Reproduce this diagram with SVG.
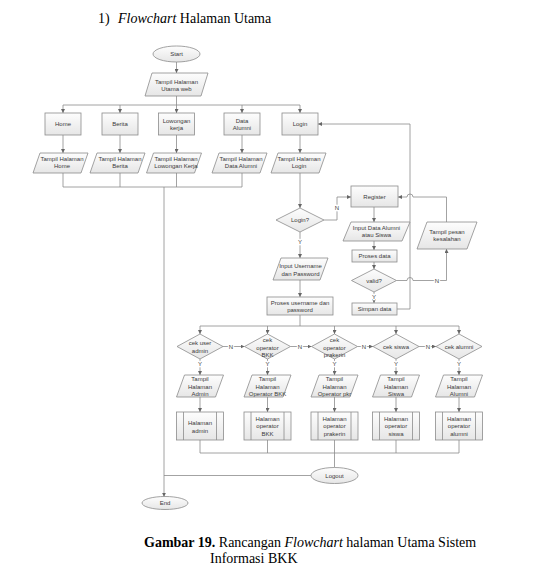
<svg xmlns="http://www.w3.org/2000/svg" width="549" height="573" viewBox="0 0 549 573">
<defs>
<linearGradient id="g" x1="0" y1="0" x2="0" y2="1">
<stop offset="0" stop-color="#fdfdfd"/>
<stop offset="1" stop-color="#e6e6e6"/>
</linearGradient>
<marker id="ah" markerUnits="userSpaceOnUse" viewBox="0 0 6 6" markerWidth="4" markerHeight="4" refX="6" refY="3" orient="auto">
<path d="M0,0 L6,3 L0,6 z" fill="#666"/>
</marker>
<style>
.s{fill:url(#g);stroke:#8c8c8c;stroke-width:0.8}
.ln{fill:none;stroke:#8c8c8c;stroke-width:0.8}
.ar{marker-end:url(#ah)}
.t{font-family:"Liberation Sans",Arial,sans-serif;font-size:6px;fill:#3a3a3a;text-anchor:middle}
.lb{font-family:"Liberation Sans",Arial,sans-serif;font-size:6px;fill:#3a3a3a;text-anchor:middle;stroke:#fff;stroke-width:2.5;paint-order:stroke}
.h{font-family:"Liberation Serif","Times New Roman",serif;font-size:14px;fill:#000}
</style>
</defs>
<rect width="549" height="573" fill="#fff"/>
<text class="h" x="98" y="23">1)<tspan x="118" font-style="italic">Flowchart</tspan> Halaman Utama</text>
<text class="h" x="144" y="547"><tspan font-weight="bold">Gambar 19.</tspan> Rancangan <tspan font-style="italic">Flowchart</tspan> halaman Utama Sistem</text>
<text class="h" x="210" y="563">Informasi BKK</text>

<g id="connectors">
<path class="ln ar" d="M176.5,62 V73"/>
<path class="ln ar" d="M176.5,96 V113"/>
<path class="ln" d="M63,105 H300"/>
<path class="ln ar" d="M63,105 V113"/>
<path class="ln ar" d="M120,105 V113"/>
<path class="ln ar" d="M242,105 V113"/>
<path class="ln ar" d="M300,105 V113"/>
<path class="ln ar" d="M63,135 V153"/>
<path class="ln ar" d="M120,135 V153"/>
<path class="ln ar" d="M176.5,135 V153"/>
<path class="ln ar" d="M242,135 V153"/>
<path class="ln ar" d="M300,135 V153"/>
<path class="ln" d="M63,173 V187 M120,173 V187 M176.5,173 V187 M242,173 V187 M63,187 H242"/>
<path class="ln ar" d="M164,187 V496.7"/>
<path class="ln ar" d="M300,173 V208"/>
<path class="ln ar" d="M324,220 H337 V197 H351"/>
<path class="ln ar" d="M300,232 V258"/>
<path class="ln ar" d="M300,280 V297"/>
<path class="ln" d="M300,315 V326 M200,326 H459"/>
<path class="ln ar" d="M200,326 V334"/>
<path class="ln ar" d="M267.5,326 V334"/>
<path class="ln ar" d="M334.5,326 V334"/>
<path class="ln ar" d="M396,326 V334"/>
<path class="ln ar" d="M459,326 V334"/>
<path class="ln ar" d="M374,207 V222"/>
<path class="ln ar" d="M374,241 V250"/>
<path class="ln ar" d="M374,262 V269"/>
<path class="ln ar" d="M374,292 V303"/>
<path class="ln ar" d="M396.5,280.5 H407 a3,3 0 0 1 6,0 H446.5 V249"/>
<path class="ln ar" d="M446.5,222 V197 H413 a3,3 0 0 0 -6,0 H398"/>
<path class="ln ar" d="M397,309 H410 V124 H318"/>
<path class="ln ar" d="M223,346.5 H244.5"/>
<path class="ln ar" d="M290.5,346.5 H311.5"/>
<path class="ln ar" d="M357.5,346.5 H373"/>
<path class="ln ar" d="M419,346.5 H436"/>
<path class="ln ar" d="M200,359 V375"/>
<path class="ln ar" d="M267.5,359 V375"/>
<path class="ln ar" d="M334.5,359 V375"/>
<path class="ln ar" d="M396,359 V375"/>
<path class="ln ar" d="M459,359 V375"/>
<path class="ln ar" d="M200,397 V412"/>
<path class="ln ar" d="M267.5,397 V412"/>
<path class="ln ar" d="M334.5,397 V412"/>
<path class="ln ar" d="M396,397 V412"/>
<path class="ln ar" d="M459,397 V412"/>
<path class="ln" d="M200,440 V453 M267.5,440 V453 M334.5,440 V453 M396,440 V453 M459,440 V453 M200,453 H459 M334.5,453 V467.5"/>
<path class="ln" d="M311,475.5 H164"/>
<text class="lb" x="337" y="210">N</text>
<text class="lb" x="300" y="244">Y</text>
<text class="lb" x="374" y="299">Y</text>
<text class="lb" x="437" y="282.5">N</text>
<text class="lb" x="231" y="348.5">N</text>
<text class="lb" x="300" y="348.5">N</text>
<text class="lb" x="364" y="348.5">N</text>
<text class="lb" x="428" y="348.5">N</text>
<text class="lb" x="200" y="366">Y</text>
<text class="lb" x="267.5" y="366">Y</text>
<text class="lb" x="334.5" y="366">Y</text>
<text class="lb" x="396" y="366">Y</text>
<text class="lb" x="459" y="366">Y</text>
</g>

<g id="start"><ellipse class="s" cx="176.5" cy="54" rx="23.5" ry="8"/><text class="t" x="176.5" y="56">Start</text></g>
<g id="tampil-utama"><polygon class="s" points="152,73 208,73 201,96 145,96"/><text class="t" x="176.5" y="83.5">Tampil Halaman</text><text class="t" x="176.5" y="91">Utama web</text></g>

<g id="home"><rect class="s" x="45" y="113" width="36" height="22"/><text class="t" x="63" y="126">Home</text></g>
<g id="berita"><rect class="s" x="102" y="113" width="36" height="22"/><text class="t" x="120" y="126">Berita</text></g>
<g id="lowongan"><rect class="s" x="158.5" y="113" width="36" height="22"/><text class="t" x="176.5" y="122.5">Lowongan</text><text class="t" x="176.5" y="130">kerja</text></g>
<g id="data-alumni"><rect class="s" x="224" y="113" width="36" height="22"/><text class="t" x="242" y="122.5">Data</text><text class="t" x="242" y="130">Alumni</text></g>
<g id="login"><rect class="s" x="282" y="113" width="36" height="22"/><text class="t" x="300" y="126">Login</text></g>

<g id="tampil-home"><polygon class="s" points="40,153 88,153 81,173 33,173"/><text class="t" x="62" y="160.5">Tampil Halaman</text><text class="t" x="62" y="168">Home</text></g>
<g id="tampil-berita"><polygon class="s" points="97,153 145,153 138,173 90,173"/><text class="t" x="120" y="160.5">Tampil Halaman</text><text class="t" x="120" y="168">Berita</text></g>
<g id="tampil-lowongan"><polygon class="s" points="153.5,153 201.5,153 194.5,173 146.5,173"/><text class="t" x="176" y="160.5">Tampil Halaman</text><text class="t" x="176" y="168">Lowongan Kerja</text></g>
<g id="tampil-alumni"><polygon class="s" points="219,153 267,153 260,173 212,173"/><text class="t" x="241" y="160.5">Tampil Halaman</text><text class="t" x="241" y="168">Data Alumni</text></g>
<g id="tampil-login"><polygon class="s" points="278,153 326,153 319,173 271,173"/><text class="t" x="299" y="160.5">Tampil Halaman</text><text class="t" x="299" y="168">Login</text></g>

<g id="login-q"><polygon class="s" points="300,208 324,220 300,232 276,220"/><text class="t" x="300" y="222">Login?</text></g>
<g id="input-user"><polygon class="s" points="281,258 328,258 320,280 273,280"/><text class="t" x="300.5" y="268">Input Username</text><text class="t" x="300.5" y="275.5">dan Password</text></g>
<g id="proses-user"><rect class="s" x="267" y="297" width="66" height="18"/><text class="t" x="300" y="304.5">Proses username dan</text><text class="t" x="300" y="312">password</text></g>

<g id="register"><rect class="s" x="351" y="186" width="47" height="21"/><text class="t" x="374.5" y="198.5">Register</text></g>
<g id="input-data"><polygon class="s" points="351,222 410,222 402,241 343,241"/><text class="t" x="376.5" y="229.5">Input Data Alumni</text><text class="t" x="376.5" y="237">atau Siswa</text></g>
<g id="proses-data"><rect class="s" x="352" y="250" width="45" height="12"/><text class="t" x="374.5" y="258">Proses data</text></g>
<g id="valid"><polygon class="s" points="374,269 396.5,280.5 374,292 351.5,280.5"/><text class="t" x="374" y="282.5">valid?</text></g>
<g id="simpan"><rect class="s" x="352" y="303" width="45" height="12"/><text class="t" x="374.5" y="311">Simpan data</text></g>
<g id="pesan"><polygon class="s" points="427,222 477,222 467,249 417,249"/><text class="t" x="447" y="233.5">Tampil pesan</text><text class="t" x="447" y="241">kesalahan</text></g>

<g id="cek-admin"><polygon class="s" points="200,334 223,346.5 200,359 177,346.5"/><text class="t" x="200" y="345">cek user</text><text class="t" x="200" y="352.5">admin</text></g>
<g id="cek-bkk"><polygon class="s" points="267.5,334 290.5,346.5 267.5,359 244.5,346.5"/><text class="t" x="267.5" y="342">cek</text><text class="t" x="267.5" y="349.5">operator</text><text class="t" x="267.5" y="356.5">BKK</text></g>
<g id="cek-prakerin"><polygon class="s" points="334.5,334 357.5,346.5 334.5,359 311.5,346.5"/><text class="t" x="334.5" y="342">cek</text><text class="t" x="334.5" y="349.5">operator</text><text class="t" x="334.5" y="356.5">prakerin</text></g>
<g id="cek-siswa"><polygon class="s" points="396,334 419,346.5 396,359 373,346.5"/><text class="t" x="396" y="348.5">cek siswa</text></g>
<g id="cek-alumni"><polygon class="s" points="459,334 482,346.5 459,359 436,346.5"/><text class="t" x="459" y="348.5">cek alumni</text></g>

<g id="tampil-admin"><polygon class="s" points="184.5,375 223.5,375 215.5,397 176.5,397"/><text class="t" x="200" y="381">Tampil</text><text class="t" x="200" y="388.5">Halaman</text><text class="t" x="200" y="395.5">Admin</text></g>
<g id="tampil-bkk"><polygon class="s" points="252,375 291,375 283,397 244,397"/><text class="t" x="267.5" y="381">Tampil</text><text class="t" x="267.5" y="388.5">Halaman</text><text class="t" x="267.5" y="395.5">Operator BKK</text></g>
<g id="tampil-pkr"><polygon class="s" points="319,375 358,375 350,397 311,397"/><text class="t" x="334.5" y="381">Tampil</text><text class="t" x="334.5" y="388.5">Halaman</text><text class="t" x="334.5" y="395.5">Operator pkr</text></g>
<g id="tampil-siswa"><polygon class="s" points="380.5,375 419.5,375 411.5,397 372.5,397"/><text class="t" x="396" y="381">Tampil</text><text class="t" x="396" y="388.5">Halaman</text><text class="t" x="396" y="395.5">Siswa</text></g>
<g id="tampil-alumni2"><polygon class="s" points="443.5,375 482.5,375 474.5,397 435.5,397"/><text class="t" x="459" y="381">Tampil</text><text class="t" x="459" y="388.5">Halaman</text><text class="t" x="459" y="395.5">Alumni</text></g>

<g id="hal-admin"><rect class="s" x="176.5" y="412" width="47" height="28"/><path class="ln" d="M183.5,412 V440 M216.5,412 V440"/><text class="t" x="200" y="424.5">Halaman</text><text class="t" x="200" y="432.5">admin</text></g>
<g id="hal-bkk"><rect class="s" x="244" y="412" width="47" height="28"/><path class="ln" d="M251,412 V440 M284,412 V440"/><text class="t" x="267.5" y="420.5">Halaman</text><text class="t" x="267.5" y="428">operator</text><text class="t" x="267.5" y="435.5">BKK</text></g>
<g id="hal-prakerin"><rect class="s" x="311" y="412" width="47" height="28"/><path class="ln" d="M318,412 V440 M351,412 V440"/><text class="t" x="334.5" y="420.5">Halaman</text><text class="t" x="334.5" y="428">operator</text><text class="t" x="334.5" y="435.5">prakerin</text></g>
<g id="hal-siswa"><rect class="s" x="372.5" y="412" width="47" height="28"/><path class="ln" d="M379.5,412 V440 M412.5,412 V440"/><text class="t" x="396" y="420.5">Halaman</text><text class="t" x="396" y="428">operator</text><text class="t" x="396" y="435.5">siswa</text></g>
<g id="hal-alumni"><rect class="s" x="435.5" y="412" width="47" height="28"/><path class="ln" d="M442.5,412 V440 M475.5,412 V440"/><text class="t" x="459" y="420.5">Halaman</text><text class="t" x="459" y="428">operator</text><text class="t" x="459" y="435.5">alumni</text></g>

<g id="logout"><ellipse class="s" cx="334.5" cy="475.5" rx="23.5" ry="8"/><text class="t" x="334.5" y="477.5">Logout</text></g>
<g id="end"><ellipse class="s" cx="165" cy="503" rx="23" ry="6.5"/><text class="t" x="165" y="505">End</text></g>
</svg>
